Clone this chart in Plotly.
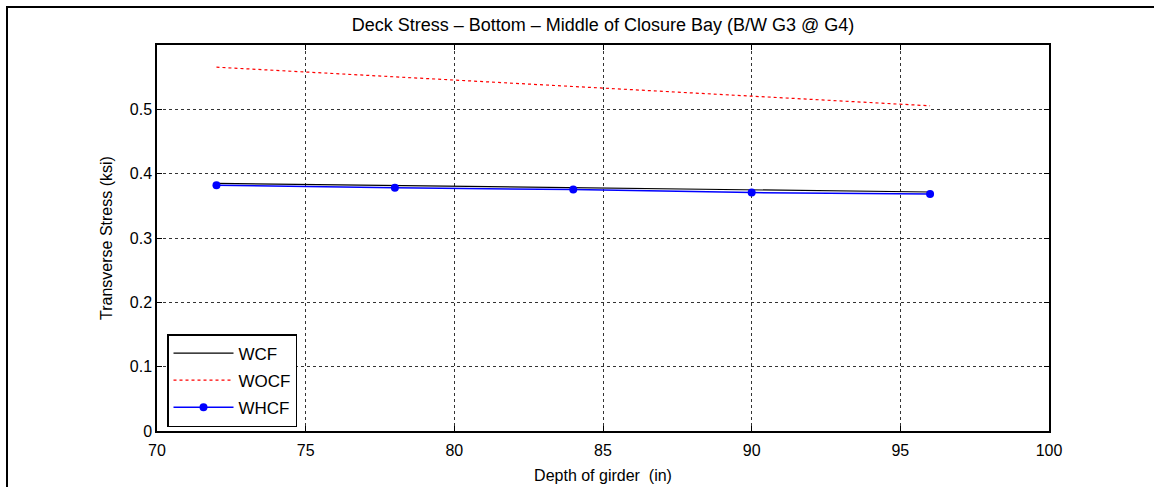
import plotly.graph_objects as go

depth = [72, 78, 84, 90, 96]
wcf_x = [72, 96]
wcf = [0.385, 0.3715]
wocf_x = [72, 96]
wocf = [0.5655, 0.5055]
whcf = [0.382, 0.378, 0.3752, 0.3706, 0.3685]

x_ticks = [70, 75, 80, 85, 90, 95, 100]
y_ticks = [0, 0.1, 0.2, 0.3, 0.4, 0.5]
y_tick_text = ["0", "0.1", "0.2", "0.3", "0.4", "0.5"]

FONT = "Liberation Sans, Arial, sans-serif"
W, H = 1154, 487
L, R, T, B = 157, 105, 45, 56
PW, PH = W - L - R, H - T - B

fig = go.Figure()
fig.add_trace(go.Scatter(x=wcf_x, y=wcf, mode="lines", name="WCF",
                         line=dict(color="black", width=1.2), legendgroup="a"))
fig.add_trace(go.Scatter(x=wocf_x, y=wocf, mode="lines", name="WOCF",
                         line=dict(color="red", width=1.2, dash="dot"), legendgroup="b"))
fig.add_trace(go.Scatter(x=depth, y=whcf, mode="lines+markers", name="WHCF",
                         line=dict(color="blue", width=1.5),
                         marker=dict(color="blue", size=8), legendgroup="c"))

axis_common = dict(
    showline=True, linecolor="black", linewidth=1.5, mirror="allticks",
    ticks="inside", ticklen=5, tickcolor="black", tickwidth=1,
    showgrid=True, gridcolor="#333333", gridwidth=1, griddash="dot",
    zeroline=False, tickfont=dict(family=FONT, size=16, color="black"),
)

fig.update_xaxes(range=[70, 100], tickvals=x_ticks, ticklabelstandoff=4,
                 title=dict(text="Depth of girder  (in)", font=dict(family=FONT, size=16, color="black"), standoff=12),
                 **axis_common)
fig.update_yaxes(range=[0, 0.6], tickvals=y_ticks, ticktext=y_tick_text,
                 title=dict(text="Transverse Stress (ksi)", font=dict(family=FONT, size=16, color="black"), standoff=13),
                 **axis_common)

fig.update_layout(
    width=W, height=H,
    margin=dict(l=L, r=R, t=T, b=B, autoexpand=False),
    paper_bgcolor="white", plot_bgcolor="white",
    font=dict(family=FONT, size=16, color="black"),
    title=dict(text="Deck Stress \u2013 Bottom \u2013 Middle of Closure Bay (B/W G3 @ G4)",
               x=0.5, xref="paper", xanchor="center",
               y=1 - 25 / H, yref="container", yanchor="middle",
               font=dict(family=FONT, size=18, color="black")),
    legend=dict(x=(167 - L) / PW, y=(H - B - 334) / PH,
                xanchor="left", yanchor="top",
                bgcolor="white", bordercolor="black", borderwidth=1.5,
                font=dict(family=FONT, size=17, color="black"),
                itemwidth=60,
                tracegroupgap=2, traceorder="grouped"),
    showlegend=True,
    shapes=[dict(type="rect", xref="paper", yref="paper",
                 x0=(7 - L) / PW, x1=(W + 20 - L) / PW,
                 y0=-(B + 20) / PH, y1=(H - B - 7) / PH,
                 line=dict(color="black", width=2), layer="above")],
)

fig.write_html("out.html", config={"displayModeBar": False},
               post_script="document.body.style.margin='0';document.body.style.overflow='hidden';")
